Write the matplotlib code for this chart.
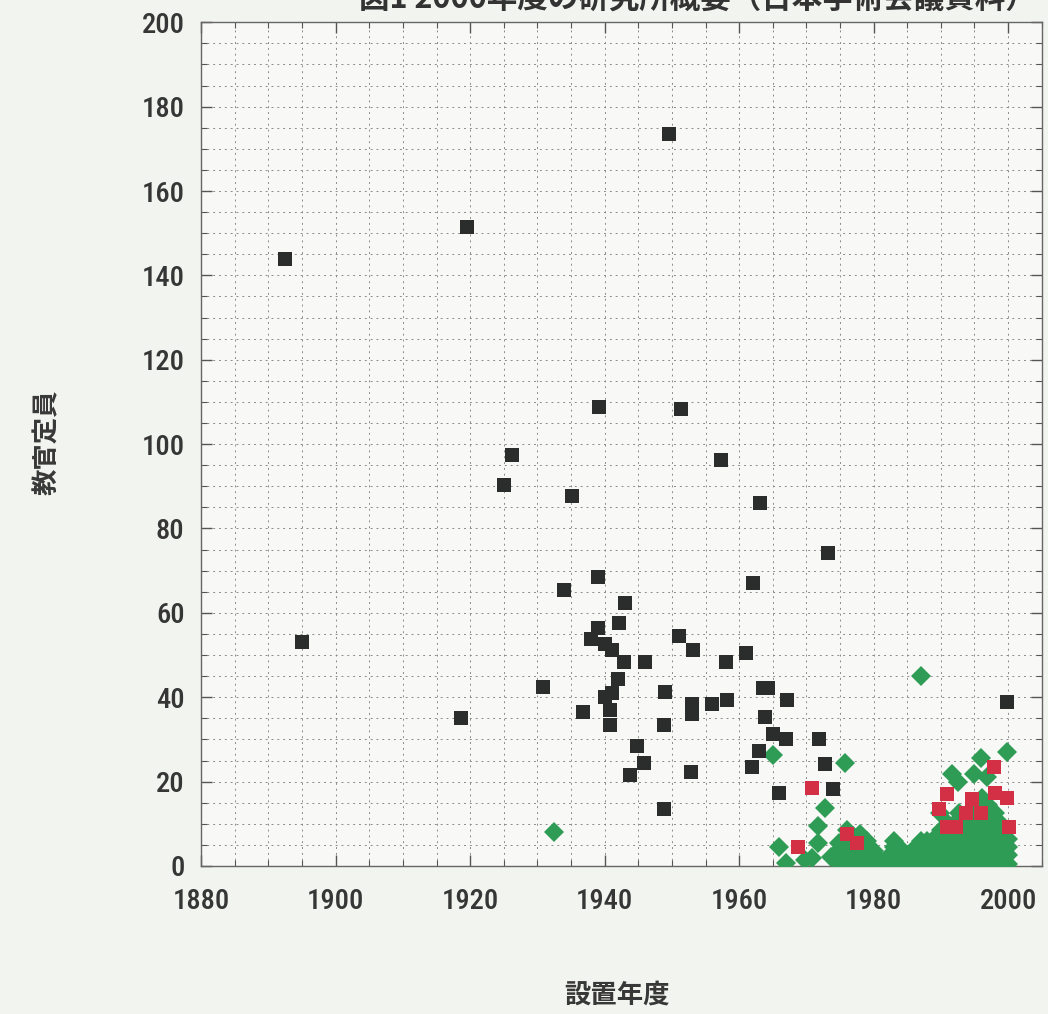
import matplotlib
matplotlib.use("Agg")
import matplotlib.pyplot as plt
from matplotlib import font_manager as fm
from matplotlib.ticker import MultipleLocator

plt.rcParams["font.family"] = ["Noto Sans CJK JP", "DejaVu Sans"]

# pick a condensed face for the numbers, like the original print
num_font = None
for key in ["RobotoCondensed-Medium", "RobotoCondensed-Regular", "RobotoCondensed",
            "LiberationSansNarrow-Bold", "LiberationSansNarrow-Regular",
            "DejaVuSansCondensed-Bold", "DejaVuSansCondensed.ttf", "Condensed", "Narrow"]:
    hits = sorted(f.fname for f in fm.fontManager.ttflist if key in f.fname)
    if hits:
        num_font = fm.FontProperties(fname=hits[0])
        break
if num_font is None:
    num_font = fm.FontProperties(family="DejaVu Sans", stretch="condensed")

# national research institutes (black)
inst_year = [1892.5, 1895, 1918.7, 1919.5, 1925.1, 1926.2, 1930.9, 1933.9, 1935.1, 1936.8,
             1938, 1939, 1939, 1939.2, 1940.1, 1940.1, 1941.1, 1941.1, 1940.8, 1940.8,
             1942, 1942.1, 1942.9, 1943.1, 1943.8, 1944.8, 1945.9, 1946, 1948.8, 1948.9,
             1949, 1949.6, 1951.1, 1951.3, 1952.9, 1953, 1953, 1953.1, 1955.9, 1957.3,
             1958.1, 1958.2, 1961, 1961.9, 1962.1, 1963, 1963.1, 1963.6, 1964.3, 1963.9,
             1965.1, 1965.9, 1966.9, 1967.1, 1971.9, 1972.8, 1973.2, 1973.9, 1999.8]
inst_staff = [144, 53, 35, 151.5, 90.3, 97.5, 42.5, 65.4, 87.6, 36.5,
              53.7, 68.5, 56.5, 108.7, 52.7, 40.1, 51.2, 40.9, 37, 33.4,
              44.4, 57.5, 48.4, 62.4, 21.6, 28.4, 24.5, 48.4, 13.4, 33.4,
              41.3, 173.5, 54.5, 108.4, 22.3, 38.5, 36.1, 51.3, 38.5, 96.2,
              48.4, 39.3, 50.4, 23.4, 67.1, 27.3, 86.1, 42.3, 42.3, 35.4,
              31.4, 17.2, 30.2, 39.4, 30.2, 24.2, 74.2, 18.2, 38.9]

# red squares
red_year = [1970.8, 1968.7, 1976, 1977.5, 1997.9, 1990.9, 1989.7, 1990.9, 1992.2,
            1994.6, 1995.9, 1998.1, 1999.9, 2000.1, 1993.7]
red_staff = [18.4, 4.4, 7.5, 5.5, 23.4, 17.1, 13.6, 9.3, 9.3,
             15.8, 12.5, 17.2, 16, 9.3, 12.5]

# green diamonds
green_year = [1932.5, 1965, 1975.8, 1972.8, 1971.8, 1971.8, 1965.9, 1966.9, 1969.8, 1970.8,
              1974.8, 1973.6, 1987, 1991.6, 1992.6, 1994.9, 1995.9, 1999.8, 1996.9, 1996.1,
              1992.7, 1989.9,
              1975, 1975, 1975,
              1976, 1976, 1976, 1976, 1976,
              1977, 1977, 1977, 1977,
              1978, 1978, 1978, 1978,
              1979, 1979, 1979, 1979,
              1980, 1980, 1980,
              1981, 1981,
              1982, 1982,
              1983, 1983, 1983, 1983,
              1984, 1984, 1984,
              1985, 1985,
              1986, 1986, 1986,
              1987, 1987, 1987, 1987,
              1988, 1988, 1988, 1988,
              1989, 1989, 1989, 1989,
              1990, 1990, 1990, 1990, 1990,
              1991, 1991, 1991, 1991, 1991, 1991,
              1992, 1992, 1992, 1992, 1992, 1992,
              1993, 1993, 1993, 1993, 1993, 1993,
              1994, 1994, 1994, 1994, 1994, 1994,
              1995, 1995, 1995, 1995, 1995, 1995, 1995,
              1996, 1996, 1996, 1996, 1996, 1996, 1996,
              1997, 1997, 1997, 1997, 1997, 1997, 1997, 1997,
              1998, 1998, 1998, 1998, 1998, 1998, 1998,
              1999, 1999, 1999, 1999, 1999, 1999,
              2000, 2000, 2000, 2000]
green_staff = [8, 26.3, 24.3, 13.8, 9.5, 5.5, 4.4, 0.8, 1.4, 1.8,
               5.4, 2.2, 45, 21.9, 20, 21.9, 25.5, 27.1, 21.1, 16,
               12.5, 12.5,
               0.5, 2.5, 4,
               0.5, 2, 4, 6, 8.5,
               0.5, 2.5, 4.5, 7,
               1, 3, 5.5, 7.5,
               0.5, 2, 4, 6,
               0.5, 2, 3.5,
               0.5, 1.5,
               0.5, 2,
               0.5, 2.5, 4.5, 6,
               0.5, 2, 4,
               0.5, 2.5,
               0.5, 2, 4,
               0.5, 2.5, 4.5, 6,
               0.5, 2.5, 4.5, 6,
               0.5, 2.5, 4.5, 6.5,
               0.5, 2.5, 4.5, 6.5, 8.5,
               0.5, 2.5, 4.5, 6.5, 8.5, 10,
               0.5, 2.5, 4.5, 6.5, 8.5, 10,
               0.5, 2.5, 4.5, 6.5, 8.5, 10.5,
               0.5, 2.5, 4.5, 6.5, 8.5, 11,
               0.5, 2.5, 4.5, 6.5, 8.5, 10.5, 12,
               0.5, 2.5, 4.5, 6.5, 8.5, 10.5, 12.5,
               0.5, 2.5, 4.5, 6.5, 8.5, 10.5, 12.5, 14.5,
               0.5, 2.5, 4.5, 6.5, 8.5, 10.5, 12.5,
               0.5, 2.5, 4.5, 6.5, 8.5, 10,
               0.5, 2.5, 4.5, 6.5]

fig = plt.figure(figsize=(10.48, 10.14), dpi=100, facecolor="#f2f4ef")
ax = fig.add_axes([0.192, 0.146, 0.802, 0.832], facecolor="#f8f9f6")

ax.plot(green_year, green_staff, "D", color="#2f9c55", ms=10, mew=0, zorder=3)
ax.plot(red_year, red_staff, "s", color="#d32f45", ms=10.5, mew=0, zorder=4)
ax.plot(inst_year, inst_staff, "s", color="#2b2d2d", ms=10.5, mew=0, zorder=5)

ax.set_xlim(1880, 2005)
ax.set_ylim(0, 200)
ax.xaxis.set_major_locator(MultipleLocator(20))
ax.xaxis.set_minor_locator(MultipleLocator(5))
ax.yaxis.set_major_locator(MultipleLocator(20))
ax.yaxis.set_minor_locator(MultipleLocator(5))
ax.grid(which="both", color="#8a8c88", lw=0.7, ls=(0, (2, 4)))
ax.set_axisbelow(True)
ax.tick_params(which="both", direction="in", top=True, right=True, color="#555555")
ax.tick_params(which="major", length=8, width=1)
ax.tick_params(which="minor", length=4, width=0.8)
ax.tick_params(axis="y", pad=12)
ax.tick_params(axis="x", pad=16)
for lab in ax.get_xticklabels() + ax.get_yticklabels():
    lab.set_fontproperties(num_font)
    lab.set_fontsize(20.5)
    lab.set_color("#363636")
for s in ax.spines.values():
    s.set_color("#666666")
    s.set_linewidth(1.0)

fig.text(0.045, 0.564, "教官定員", rotation=90, ha="center", va="center",
         fontsize=19, color="#383838", fontweight="bold", family=["Noto Sans CJK JP"])
fig.text(0.589, 0.019, "設置年度", ha="center", va="center",
         fontsize=19, color="#383838", fontweight="bold", family=["Noto Sans CJK JP"])
fig.text(0.665, 0.986, "図1 2000年度の研究所概要（日本学術会議資料）", ha="center", va="bottom",
         fontsize=22, color="#333333", fontweight="bold", family=["Noto Sans CJK JP"])

fig.savefig("out.png", dpi=100, facecolor=fig.get_facecolor())
